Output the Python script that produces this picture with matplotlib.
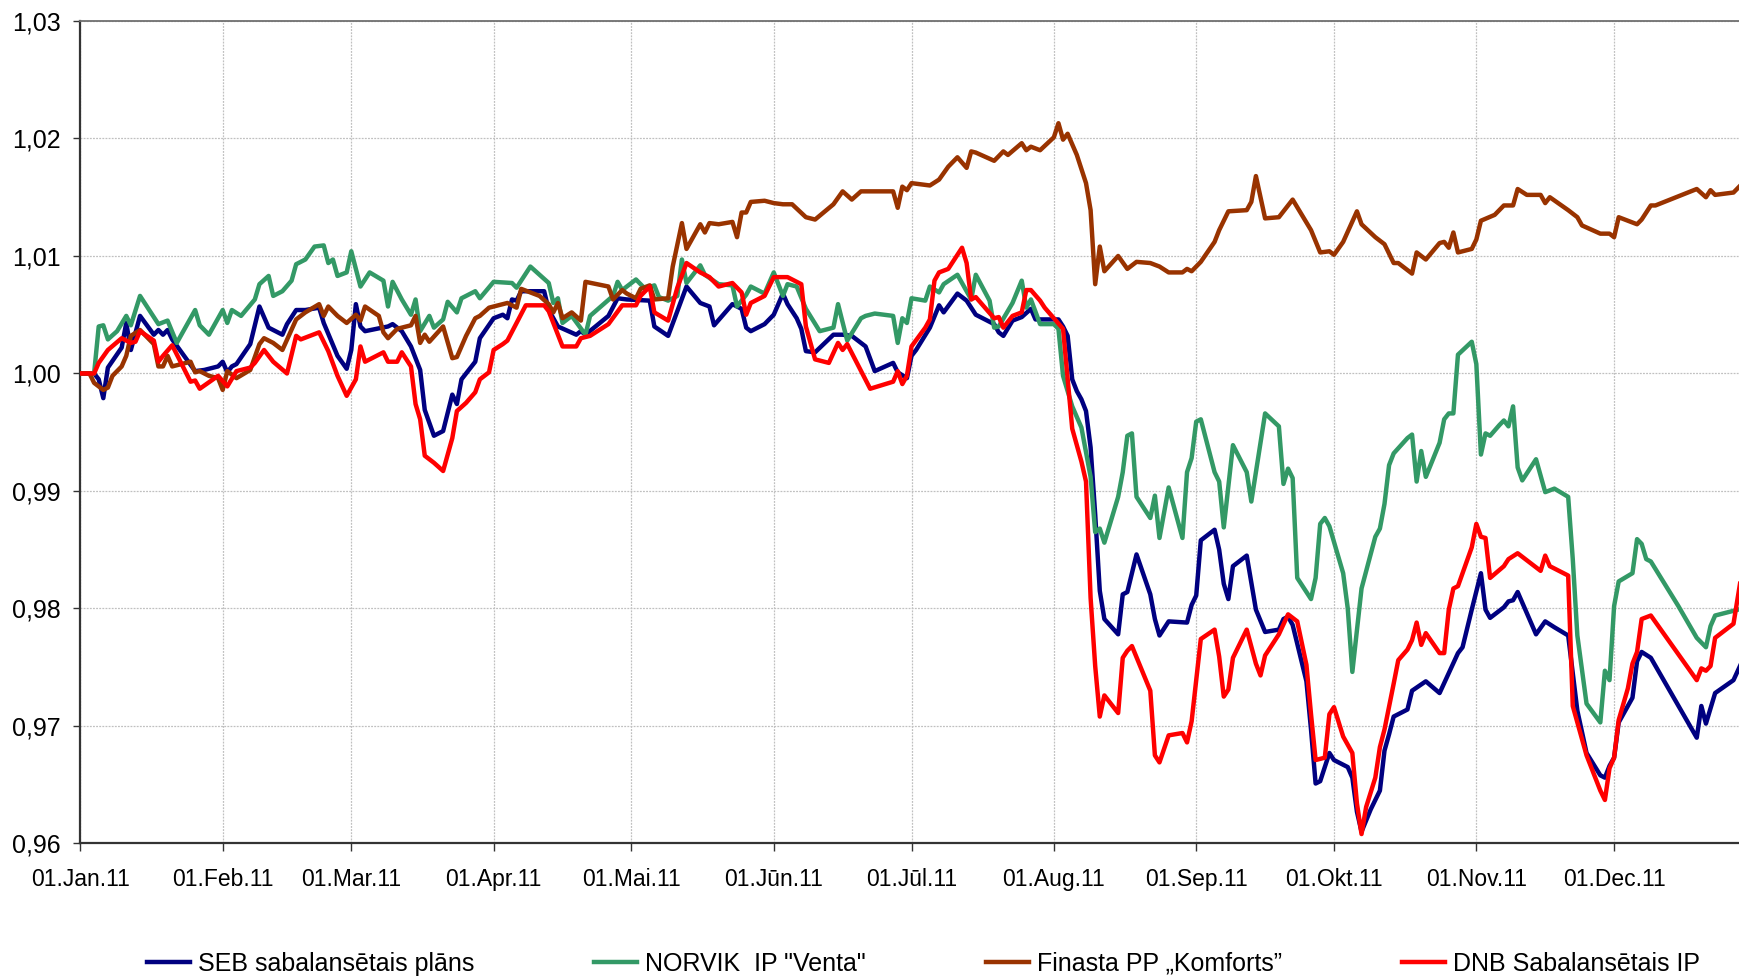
import matplotlib
matplotlib.use("Agg")
import matplotlib.pyplot as plt
from matplotlib.lines import Line2D

plt.rcParams['font.family'] = ['Liberation Sans', 'DejaVu Sans']

# ---------------- data (day offset from 01.Jan.2011, index value) ----------------
seb_days = [0, 3, 4, 5, 6, 9, 10, 11, 13, 16, 17, 18, 19, 20, 25, 27, 30, 31, 32, 33, 34, 37, 39, 41, 44, 45, 47, 49, 52, 53, 56, 58, 59,
            60, 61, 62, 67, 68, 70, 72, 74, 75, 77, 79, 81, 82, 83, 86, 87, 90, 92, 93, 94, 95, 96, 101, 102, 104, 108, 109, 110, 115, 117, 119,
            124, 125, 128, 132, 135, 137, 138, 142, 144, 145, 146, 149, 151, 153, 154, 156, 157, 158, 160, 164, 166, 168, 171, 173, 177, 178, 180,
            181, 182, 185, 187, 188, 191, 193, 195, 199, 200, 201, 203, 205, 207, 208, 213, 214, 215, 216, 217, 218, 219, 220, 221, 222, 223,
            226, 227, 228, 230, 233, 234, 235, 237, 241, 242, 243, 244, 247, 248, 249, 250, 251, 254, 256, 258, 261, 262, 263, 264, 267, 268,
            269, 270, 272, 273, 276, 277, 278, 279, 281, 283, 284, 285, 286, 289, 290, 293, 296, 300, 301, 303, 305, 306, 307, 310, 311, 312,
            313, 317, 319, 321, 324, 326, 328, 331, 332, 333, 334, 335, 338, 339, 340, 342, 352, 353, 354, 356, 360, 362]
seb_vals = [1.0000, 1.0000, 0.9995, 0.9979, 1.0005, 1.0022, 1.0043, 1.0020, 1.0049, 1.0033, 1.0037, 1.0033, 1.0037, 1.0029, 1.0002, 1.0003,
            1.0006, 1.0010, 1.0001, 1.0006, 1.0008, 1.0025, 1.0057, 1.0039, 1.0033, 1.0042, 1.0054, 1.0054, 1.0056, 1.0043, 1.0015, 1.0004, 1.0020,
            1.0059, 1.0040, 1.0036, 1.0040, 1.0042, 1.0036, 1.0023, 1.0003, 0.9969, 0.9947, 0.9951, 0.9982, 0.9974, 0.9995, 1.0010, 1.0030, 1.0047,
            1.0050, 1.0047, 1.0063, 1.0062, 1.0070, 1.0070, 1.0054, 1.0040, 1.0033, 1.0036, 1.0033, 1.0049, 1.0064, 1.0063,
            1.0062, 1.0040, 1.0032, 1.0074, 1.0060, 1.0057, 1.0041, 1.0059, 1.0055, 1.0039, 1.0036, 1.0042, 1.0050, 1.0068, 1.0059, 1.0047, 1.0038,
            1.0019, 1.0018, 1.0033, 1.0033, 1.0032, 1.0023, 1.0002, 1.0009, 1.0001, 0.9996,
            1.0015, 1.0020, 1.0039, 1.0058, 1.0052, 1.0068, 1.0062, 1.0050, 1.0042, 1.0035, 1.0032, 1.0045, 1.0048, 1.0055, 1.0046, 1.0046, 1.0040,
            1.0032, 0.9995, 0.9985, 0.9978, 0.9968, 0.9937, 0.9880, 0.9815, 0.9791,
            0.9778, 0.9812, 0.9814, 0.9846, 0.9812, 0.9791, 0.9777, 0.9789, 0.9788, 0.9803, 0.9811, 0.9858, 0.9867, 0.9850, 0.9821, 0.9808, 0.9836,
            0.9845, 0.9799, 0.9780, 0.9782, 0.9791, 0.9793, 0.9786, 0.9738, 0.9697,
            0.9651, 0.9653, 0.9677, 0.9671, 0.9665, 0.9656, 0.9627, 0.9610, 0.9629, 0.9645, 0.9679, 0.9693, 0.9708, 0.9714, 0.9730, 0.9738, 0.9728,
            0.9762, 0.9767, 0.9799, 0.9830, 0.9799, 0.9792, 0.9801, 0.9806, 0.9807,
            0.9814, 0.9778, 0.9789, 0.9784, 0.9777, 0.9713, 0.9677, 0.9658, 0.9656, 0.9666, 0.9673, 0.9703, 0.9724, 0.9755, 0.9763, 0.9758, 0.9690,
            0.9717, 0.9702, 0.9728, 0.9739, 0.9756]

norvik_days = [0, 3, 4, 5, 6, 8, 10, 11, 13, 17, 19, 21, 25, 26, 28, 31, 32, 33, 35, 38, 39, 41, 42, 44, 46, 47, 49, 51, 53, 54, 55, 56, 58, 59,
               61, 63, 66, 67, 68, 70, 72, 73, 74, 76, 77, 79, 80, 82, 83, 86, 87, 90, 94, 95, 98, 102, 103, 104, 105, 107, 110, 111, 116, 117,
               118, 121, 123, 125, 126, 128, 130, 131, 132, 135, 136, 139, 142, 143, 145, 146, 149, 151, 153, 154, 156, 158, 161, 164, 165, 167,
               170, 171, 173, 177, 178, 179, 180, 181, 184, 185, 187, 188, 191, 194, 195, 198, 199, 200, 203, 205, 206, 207, 209, 212, 213, 214,
               216, 218, 219, 220, 221, 222, 223, 226, 227, 228, 229, 230, 233, 234, 235, 237, 240, 241, 242, 243, 244, 247, 248, 249, 251, 254,
               255, 258, 261, 262, 263, 264, 265, 268, 269, 270, 271, 272, 275, 276, 277, 279, 282, 283, 284, 285, 286, 289, 290, 291, 292, 293,
               296, 297, 298, 299, 300, 303, 304, 305, 306, 307, 309, 310, 311, 312, 313, 314, 317, 319, 321, 324, 325, 326, 328, 331, 332, 333,
               334, 335, 338, 339, 340, 341, 342, 348, 352, 354, 355, 356, 360, 362]
norvik_vals = [1.0000, 1.0000, 1.0040, 1.0041, 1.0029, 1.0036, 1.0049, 1.0041, 1.0066, 1.0042, 1.0045, 1.0026, 1.0054, 1.0041, 1.0033, 1.0054,
               1.0043, 1.0054, 1.0049, 1.0063, 1.0076, 1.0083, 1.0066, 1.0070, 1.0079, 1.0093, 1.0097, 1.0108, 1.0109, 1.0094, 1.0097, 1.0083,
               1.0086, 1.0104,
               1.0074, 1.0086, 1.0079, 1.0057, 1.0078, 1.0063, 1.0050, 1.0063, 1.0036, 1.0049, 1.0039, 1.0046, 1.0061, 1.0052, 1.0064, 1.0070,
               1.0064, 1.0078, 1.0077, 1.0073, 1.0091, 1.0077, 1.0060, 1.0064, 1.0043, 1.0049, 1.0033, 1.0049, 1.0066, 1.0078,
               1.0071, 1.0080, 1.0072, 1.0075, 1.0065, 1.0062, 1.0066, 1.0097, 1.0077, 1.0092, 1.0084, 1.0076, 1.0075, 1.0057, 1.0067, 1.0074,
               1.0068, 1.0086, 1.0066, 1.0076, 1.0074, 1.0055, 1.0036, 1.0039, 1.0059, 1.0028,
               1.0047, 1.0049, 1.0051, 1.0049, 1.0026, 1.0047, 1.0043, 1.0064, 1.0062, 1.0074, 1.0069, 1.0076, 1.0084, 1.0063, 1.0084, 1.0062,
               1.0039, 1.0040, 1.0060, 1.0079, 1.0056, 1.0063, 1.0042, 1.0042, 1.0038, 0.9998,
               0.9972, 0.9954, 0.9933, 0.9912, 0.9865, 0.9868, 0.9856, 0.9895, 0.9916, 0.9947, 0.9949, 0.9895, 0.9877, 0.9896, 0.9860, 0.9903,
               0.9860, 0.9916, 0.9928, 0.9959, 0.9961, 0.9916, 0.9908, 0.9869, 0.9939, 0.9916,
               0.9891, 0.9966, 0.9955, 0.9906, 0.9919, 0.9911, 0.9826, 0.9808, 0.9826, 0.9872, 0.9877, 0.9870, 0.9830, 0.9800, 0.9746, 0.9817,
               0.9861, 0.9868, 0.9889, 0.9922, 0.9932, 0.9945, 0.9948, 0.9908, 0.9934, 0.9912,
               0.9941, 0.9961, 0.9966, 0.9966, 1.0016, 1.0027, 1.0008, 0.9931, 0.9949, 0.9947, 0.9956, 0.9960, 0.9955, 0.9972, 0.9920, 0.9909,
               0.9927, 0.9899, 0.9902, 0.9895, 0.9842, 0.9777, 0.9719, 0.9703, 0.9747, 0.9739,
               0.9802, 0.9823, 0.9830, 0.9859, 0.9855, 0.9842, 0.9840, 0.9802, 0.9775, 0.9767, 0.9785, 0.9794, 0.9798, 0.9800]

finasta_days = [0, 2, 3, 5, 6, 7, 9, 10, 11, 13, 16, 17, 18, 19, 20, 24, 25, 26, 28, 30, 31, 32, 34, 37, 39, 40, 42, 44, 47, 49, 52, 53, 54, 56,
                58, 60, 61, 62, 65, 66, 67, 69, 72, 73, 74, 75, 76, 79, 81, 82, 84, 86, 87, 89, 93, 95, 96, 100, 102, 103, 104, 105, 107, 109,
                110, 115, 116, 118, 119, 121, 122, 124, 125, 128, 129, 131, 132, 135, 136, 137, 139, 142, 143, 144, 145, 146, 149, 151, 153, 155,
                158, 160, 164, 166, 168, 170, 177, 178, 179, 180, 181, 185, 187, 189, 191, 193, 194, 195, 199, 201, 202, 205, 206, 207, 209, 212,
                213, 214, 215, 217, 219, 220, 221, 222, 223, 226, 228, 230, 233, 235, 237, 240, 241, 242, 244, 247, 248, 250, 254, 255, 256, 258,
                261, 264, 268, 270, 272, 273, 275, 278, 279, 282, 284, 286, 287, 290, 291, 293, 296, 297, 298, 299, 300, 303, 304, 305, 308, 310,
                312, 313, 315, 318, 319, 320, 324, 326, 327, 331, 333, 334, 335, 339, 340, 342, 343, 352, 354, 355, 356, 360, 362]
finasta_vals = [1.0000, 1.0000, 0.9992, 0.9986, 0.9988, 0.9998, 1.0006, 1.0015, 1.0032, 1.0037, 1.0025, 1.0006, 1.0006, 1.0015, 1.0006, 1.0010,
                1.0001, 1.0002, 0.9998, 0.9996, 0.9986, 1.0002, 0.9996, 1.0003, 1.0025, 1.0030, 1.0026, 1.0020, 1.0046, 1.0052, 1.0059, 1.0049,
                1.0057, 1.0049,
                1.0043, 1.0050, 1.0045, 1.0057, 1.0049, 1.0035, 1.0030, 1.0038, 1.0041, 1.0049, 1.0026, 1.0033, 1.0027, 1.0040, 1.0013, 1.0014,
                1.0032, 1.0047, 1.0049, 1.0056, 1.0060, 1.0056, 1.0072, 1.0066, 1.0059, 1.0052, 1.0060, 1.0047, 1.0052, 1.0045,
                1.0078, 1.0074, 1.0063, 1.0071, 1.0068, 1.0064, 1.0072, 1.0075, 1.0063, 1.0064, 1.0091, 1.0128, 1.0106, 1.0127, 1.0120, 1.0128,
                1.0127, 1.0129, 1.0116, 1.0137, 1.0137, 1.0146, 1.0147, 1.0145, 1.0144, 1.0144,
                1.0133, 1.0131, 1.0144, 1.0155, 1.0148, 1.0155, 1.0155, 1.0141, 1.0159, 1.0156, 1.0162, 1.0160, 1.0165, 1.0176, 1.0184, 1.0175,
                1.0189, 1.0188, 1.0181, 1.0189, 1.0186, 1.0196, 1.0190, 1.0193, 1.0190, 1.0201,
                1.0213, 1.0199, 1.0204, 1.0186, 1.0162, 1.0139, 1.0076, 1.0108, 1.0087, 1.0100, 1.0089, 1.0095, 1.0094, 1.0091, 1.0086, 1.0086,
                1.0089, 1.0087, 1.0095, 1.0112, 1.0122, 1.0138, 1.0139, 1.0146, 1.0168, 1.0132,
                1.0133, 1.0148, 1.0122, 1.0103, 1.0104, 1.0101, 1.0112, 1.0138, 1.0127, 1.0116, 1.0110, 1.0094, 1.0094, 1.0085, 1.0103, 1.0097,
                1.0111, 1.0112, 1.0107, 1.0120, 1.0103, 1.0106, 1.0114, 1.0130, 1.0135, 1.0143,
                1.0143, 1.0157, 1.0152, 1.0152, 1.0145, 1.0150, 1.0139, 1.0133, 1.0126, 1.0119, 1.0119, 1.0116, 1.0133, 1.0127, 1.0131, 1.0143,
                1.0143, 1.0157, 1.0150, 1.0156, 1.0152, 1.0154, 1.0162]

dnb_days = [0, 3, 4, 6, 9, 11, 12, 13, 16, 17, 18, 20, 24, 25, 26, 30, 32, 34, 37, 38, 40, 42, 45, 47, 48, 52, 54, 56, 58, 60, 61, 62, 66, 67, 69,
            70, 72, 73, 74, 75, 77, 79, 81, 82, 84, 86, 87, 89, 90, 92, 93, 97, 101, 102, 105, 108, 109, 111, 115, 118, 121, 122, 124, 125, 128,
            130, 132, 135, 137, 139, 142, 144, 145, 146, 149, 151, 154, 157, 158, 160, 163, 165, 166, 167, 172, 177, 178, 179, 180, 181, 184,
            185, 186, 187, 189, 192, 193, 194, 195, 199, 200, 201, 203, 205, 206, 207, 209, 210, 214, 215, 216, 218, 219, 220, 221, 222, 223,
            226, 227, 228, 229, 233, 234, 235, 237, 240, 241, 242, 244, 247, 248, 249, 250, 251, 254, 256, 257, 258, 261, 263, 265, 267, 268,
            269, 271, 272, 273, 275, 277, 278, 279, 280, 282, 283, 284, 286, 287, 289, 290, 291, 292, 293, 296, 297, 298, 299, 300, 303, 304,
            305, 306, 307, 310, 311, 313, 318, 319, 320, 324, 325, 328, 331, 332, 333, 334, 335, 337, 338, 339, 340, 342, 352, 353, 354, 355,
            356, 360, 361, 362]
dnb_vals = [1.0000, 1.0000, 1.0009, 1.0020, 1.0030, 1.0026, 1.0027, 1.0036, 1.0028, 1.0010, 1.0015, 1.0024, 0.9993, 0.9994, 0.9987, 0.9998,
            0.9989, 1.0002, 1.0005, 1.0009, 1.0020, 1.0010, 1.0000, 1.0032, 1.0029, 1.0035, 1.0019, 0.9998, 0.9981, 0.9995, 1.0023, 1.0010,
            1.0018, 1.0010, 1.0010,
            1.0018, 1.0006, 0.9974, 0.9961, 0.9930, 0.9924, 0.9917, 0.9945, 0.9968, 0.9975, 0.9984, 0.9995, 1.0001, 1.0020, 1.0025, 1.0028,
            1.0058, 1.0058, 1.0053, 1.0023, 1.0023, 1.0030, 1.0032, 1.0042, 1.0058, 1.0058, 1.0066, 1.0074, 1.0052, 1.0045,
            1.0073, 1.0094, 1.0086, 1.0082, 1.0074, 1.0077, 1.0069, 1.0050, 1.0060, 1.0066, 1.0082, 1.0082, 1.0076, 1.0040, 1.0012, 1.0009,
            1.0026, 1.0020, 1.0025, 0.9987, 0.9993, 1.0002, 0.9991, 0.9998, 1.0023, 1.0039,
            1.0046, 1.0079, 1.0086, 1.0089, 1.0107, 1.0094, 1.0063, 1.0065, 1.0047, 1.0048, 1.0039, 1.0049, 1.0052, 1.0071, 1.0071, 1.0062,
            1.0056, 1.0038, 0.9995, 0.9953, 0.9925, 0.9908, 0.9809, 0.9751, 0.9708, 0.9726,
            0.9711, 0.9758, 0.9764, 0.9768, 0.9730, 0.9675, 0.9669, 0.9692, 0.9694, 0.9686, 0.9704, 0.9774, 0.9782, 0.9759, 0.9725, 0.9731,
            0.9758, 0.9782, 0.9753, 0.9743, 0.9760, 0.9778, 0.9795, 0.9789, 0.9752, 0.9710,
            0.9671, 0.9673, 0.9710, 0.9716, 0.9691, 0.9677, 0.9634, 0.9608, 0.9631, 0.9656, 0.9682, 0.9697, 0.9736, 0.9756, 0.9765, 0.9773,
            0.9788, 0.9769, 0.9779, 0.9762, 0.9762, 0.9799, 0.9817, 0.9819, 0.9852, 0.9872,
            0.9861, 0.9860, 0.9826, 0.9836, 0.9842, 0.9847, 0.9832, 0.9845, 0.9836, 0.9828, 0.9717, 0.9675, 0.9645, 0.9637, 0.9664, 0.9673,
            0.9705, 0.9732, 0.9753, 0.9763, 0.9791, 0.9794, 0.9739, 0.9749, 0.9747, 0.9751,
            0.9775, 0.9787, 0.9811, 0.9835]

series_names = ['SEB sabalansētais plāns', 'NORVIK  IP "Venta"', 'Finasta PP „Komforts”', 'DNB Sabalansētais IP']
series_colors = ['#000080', '#339966', '#993300', '#FF0000']

month_days = [0, 31, 59, 90, 120, 151, 181, 212, 243, 273, 304, 334]
month_labels = ['01.Jan.11', '01.Feb.11', '01.Mar.11', '01.Apr.11', '01.Mai.11', '01.Jūn.11',
                '01.Jūl.11', '01.Aug.11', '01.Sep.11', '01.Okt.11', '01.Nov.11', '01.Dec.11']
y_ticks = [0.96, 0.97, 0.98, 0.99, 1.00, 1.01, 1.02, 1.03]
y_labels = ['0,96', '0,97', '0,98', '0,99', '1,00', '1,01', '1,02', '1,03']

# ---------------- figure ----------------
fig = plt.figure(figsize=(17.39, 9.76), dpi=100)
ax = fig.add_axes([0.0462, 0.1358, 0.9538, 0.8427])

all_days = [seb_days, norvik_days, finasta_days, dnb_days]
all_vals = [seb_vals, norvik_vals, finasta_vals, dnb_vals]
for d, v, c, n in zip(all_days, all_vals, series_colors, series_names):
    ax.plot(d, v, color=c, lw=3.2, label=n, solid_joinstyle='round', zorder=3)

ax.set_xlim(0, 361.2)
ax.set_ylim(0.96, 1.03)
ax.set_xticks(month_days)
ax.set_xticklabels(month_labels, fontsize=16.5)
ax.set_yticks(y_ticks)
ax.set_yticklabels(y_labels, fontsize=18)

ax.grid(True, color='#c0c0c0', linestyle=(0, (1.5, 1.0)), linewidth=0.9, zorder=0)
ax.tick_params(axis='y', direction='out', length=5, width=1, color='#333333', pad=9)
ax.tick_params(axis='x', direction='out', length=6, width=1, color='#333333', pad=12)

ax.spines['right'].set_visible(False)
ax.spines['left'].set_color('#333333')
ax.spines['left'].set_linewidth(1.6)
ax.spines['bottom'].set_color('#333333')
ax.spines['bottom'].set_linewidth(1.6)
ax.spines['top'].set_color('#707070')
ax.spines['top'].set_linewidth(1.3)

handles = [Line2D([0], [0], color=c, lw=3.2) for c in series_colors]
fig.legend(handles, series_names, loc='center', bbox_to_anchor=(0.531, 0.0125), ncol=4,
           frameon=False, fontsize=18, handlelength=1.72, handletextpad=0.32,
           columnspacing=4.8, borderpad=0, borderaxespad=0)

fig.savefig('out.png', dpi=100)
